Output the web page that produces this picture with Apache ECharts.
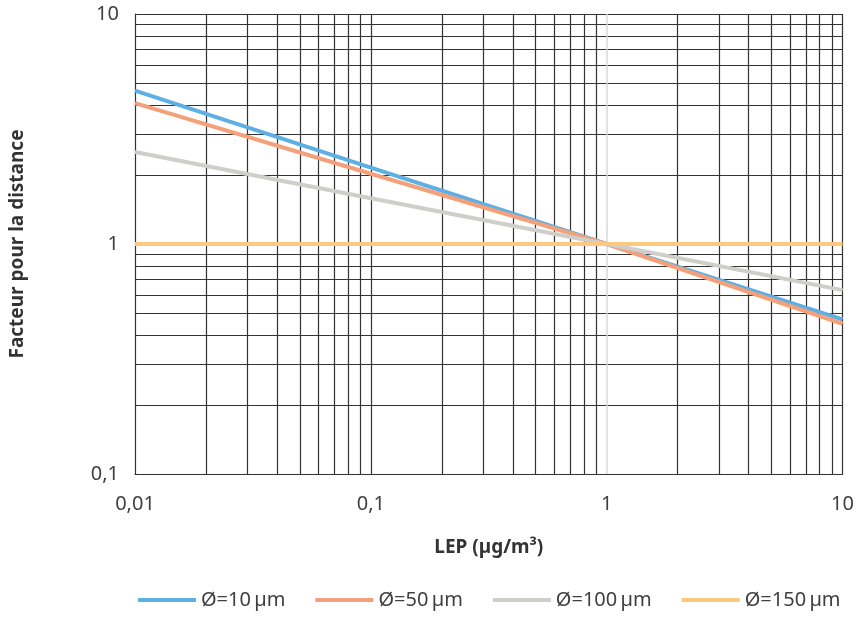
<!DOCTYPE html>
<html>
<head>
<meta charset="utf-8">
<title>Facteur pour la distance</title>
<script src="https://cdn.jsdelivr.net/npm/echarts@6/dist/echarts.min.js"></script>
<style>
  html, body { margin: 0; padding: 0; background: #fff; }
  #chart { width: 857px; height: 617px; }
</style>
</head>
<body>
<div id="chart"></div>
<script>
// valeurs (LEP en µg/m³ -> facteur)
const lep = [0.01, 0.1, 1, 10];
const d10 = [4.64, 2.15, 1, 0.47];
const d50 = [4.1, 2.02, 1, 0.45];
const d100 = [2.51, 1.58, 1, 0.63];
const d150 = [1, 1, 1, 1];

const seriesNames = ['Ø=10\u2009µm', 'Ø=50\u2009µm', 'Ø=100\u2009µm', 'Ø=150\u2009µm'];
const colors = ['#5eafe3', '#f4a07a', '#cfcecb', '#fec880'];

// lignes de grille (échelle log)
const xGrid = [0.02, 0.03, 0.04, 0.05, 0.06, 0.07, 0.08, 0.09, 0.1,
  0.2, 0.3, 0.4, 0.5, 0.6, 0.7, 0.8, 0.9,
  2, 3, 4, 5, 6, 7, 8, 9, 10];
const yGrid = [0.2, 0.3, 0.4, 0.5, 0.6, 0.7, 0.8, 0.9,
  2, 3, 4, 5, 6, 7, 8, 9];

const fmt = v => String(+v.toPrecision(6)).replace('.', ',');
const pairs = ys => lep.map((x, i) => [x, ys[i]]);

let chart = echarts.init(document.getElementById('chart'));

const gridLines = [];
xGrid.forEach(v => gridLines.push({ xAxis: v }));
yGrid.forEach(v => gridLines.push({ yAxis: v }));
// la ligne verticale à 1 est grise claire
gridLines.push({ xAxis: 1, lineStyle: { color: '#d9d9d9', width: 1.5 } });

chart.setOption({
  animation: false,
  textStyle: { fontFamily: 'Noto Sans' },
  grid: { left: 135, right: 12, top: 14, bottom: 143 },
  legend: {
    bottom: 2,
    left: 133,
    right: 0,
    icon: 'rect',
    itemWidth: 58,
    itemHeight: 4,
    itemGap: 30,
    textStyle: { fontSize: 20, color: '#404040' },
    data: seriesNames
  },
  xAxis: {
    type: 'log',
    logBase: 10,
    min: 0.01,
    max: 10,
    name: 'LEP (µg/m³)',
    nameLocation: 'middle',
    nameGap: 64,
    nameTextStyle: { fontSize: 19, fontWeight: 'bold', color: '#333' },
    axisLine: { lineStyle: { color: '#333', width: 1.2 } },
    axisTick: { show: false },
    axisLabel: { margin: 20, fontSize: 20, color: '#404040', formatter: fmt },
    splitLine: { show: false }
  },
  yAxis: {
    type: 'log',
    logBase: 10,
    min: 0.1,
    max: 10,
    name: 'Facteur pour la distance',
    nameLocation: 'middle',
    nameGap: 108,
    nameTextStyle: { fontSize: 19, fontWeight: 'bold', color: '#333' },
    axisLine: { show: true, lineStyle: { color: '#333', width: 1.2 } },
    axisTick: { show: false },
    axisLabel: { margin: 16, fontSize: 20, color: '#404040', formatter: fmt },
    splitLine: { show: true, lineStyle: { color: '#333', width: 1.2 } }
  },
  series: [
    {
      type: 'line',
      z: 1,
      silent: true,
      data: [],
      markLine: {
        silent: true,
        symbol: ['none', 'none'],
        label: { show: false },
        animation: false,
        lineStyle: { color: '#333', width: 1.2, type: 'solid' },
        data: gridLines
      }
    },
    ...[d10, d50, d100, d150].map((ys, i) => ({
      name: seriesNames[i],
      type: 'line',
      z: 5 + i,
      data: pairs(ys),
      showSymbol: false,
      symbol: 'none',
      color: colors[i],
      lineStyle: { color: colors[i], width: 4 }
    }))
  ]
});
</script>
</body>
</html>
